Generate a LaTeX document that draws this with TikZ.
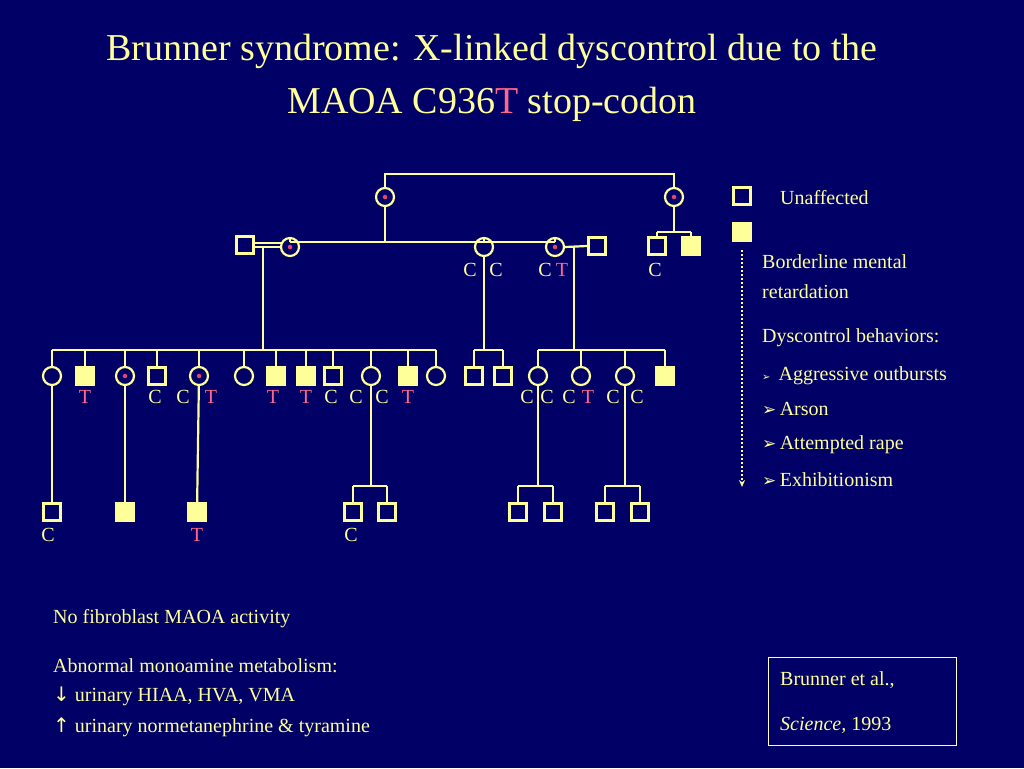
\documentclass[tikz,border=0pt]{standalone}
\usepackage{fontspec}
\setmainfont{Liberation Serif}
\newfontfamily\dv{DejaVu Sans}
\usetikzlibrary{arrows.meta}
\begin{document}
\begin{tikzpicture}[x=1pt,y=-1pt,
  yel/.style={draw=ylw,line width=2.2pt},
  osq/.style={yel,rectangle,minimum size=17pt,inner sep=0pt},
  fsq/.style={osq,fill=ylw},
  circ/.style={yel,circle,minimum size=18pt,inner sep=0pt},
  dcirc/.style={circ,label={[fill=dotc,circle,inner sep=1.6pt]center:}},
  lab/.style={text=ylw,font=\fontsize{20}{22}\selectfont,inner sep=0pt},
  red/.style={lab,text=redt},
  txt/.style={text=ylw,font=\fontsize{20}{22}\selectfont,anchor=west,inner sep=0pt},
  ln/.style={draw=ylw,line width=2.2pt}]
\definecolor{ylw}{RGB}{255,255,153}
\definecolor{bg}{RGB}{0,0,102}
\definecolor{redt}{RGB}{255,102,140}
\definecolor{dotc}{RGB}{230,70,110}
\fill[bg] (0,0) rectangle (1024,768);
\useasboundingbox (0,0) rectangle (1024,768);
% title
\node[text=ylw,font=\fontsize{38}{53}\selectfont,align=center] (title) at (492,78)
 {Brunner syndrome: X-linked dyscontrol due to the\\MAOA C936{\color{redt}T} stop-codon};
% Gen I
\node[dcirc] (g1a) at (385,197) {};
\node[dcirc] (g1b) at (674,197) {};
\coordinate (t1) at (385,174); \coordinate (t2) at (674,174);
\draw[ln] (g1a) -- (t1) -- (t2) -- (g1b);
% Gen II
\node[osq] (s1) at (245,245) {};
\node[dcirc] (c1) at (290,247) {};
\node[circ] (c2) at (484,247) {};
\node[dcirc] (c3) at (555,247) {};
\node[osq] (s2) at (597,246) {};
\node[osq] (r1) at (657,246) {};
\node[fsq] (r2) at (691,246) {};
\coordinate (sb1) at (385,242);
\draw[ln] (g1a) -- (sb1);
\draw[ln] (290,242) -- (555,242);
\draw[ln] (c1.north) -- (290,242) (c2.north) -- (484,242) (c3.north) -- (555,242);
\draw[ln] (g1b) -- (674,232);
\draw[ln] (657,232) -- (691,232) (r1.north) -- (657,232) (r2.north) -- (691,232);
\draw[draw=ylw,line width=1.5pt] (s1.east) ++(0,-2) -- ++(27.5,0) (s1.east) ++(0,2) -- ++(27.5,0);
\draw[ln] (c3.east) -- (s2.west);
\node[lab] at (470,270) {C}; \node[lab] at (496,270) {C};
\node[lab] at (545,270) {C}; \node[red] at (562,270) {T};
\node[lab] at (655,270) {C};
% Gen III left sibship
\draw[ln] (263,246) -- (263,350);
\draw[ln] (52,350) -- (436,350);
\foreach \n/\x/\s in {a/52/circ,b/85/fsq,c/125/dcirc,d/157/osq,e/199/dcirc,f/244/circ,g/276/fsq,h/306/fsq,i/333/osq,j/371/circ,k/408/fsq,l/436/circ}{
  \node[\s] (p\n) at (\x,376) {};
  \draw[ln] (p\n.north) -- (\x,350);
}
\node[red] at (85,397) {T};
\node[lab] at (155,397) {C}; \node[lab] at (183,397) {C}; \node[red] at (211,397) {T};
\node[red] at (273,397) {T}; \node[red] at (306,397) {T};
\node[lab] at (331,397) {C}; \node[lab] at (356,397) {C}; \node[lab] at (382,397) {C};
\node[red] at (408,397) {T};
% middle
\draw[ln] (c2) -- (484,350);
\draw[ln] (474,350) -- (503,350);
\node[osq] (m1) at (474,376) {}; \node[osq] (m2) at (503,376) {};
\draw[ln] (m1.north) -- (474,350) (m2.north) -- (503,350);
% right sibship
\draw[ln] (574,246) -- (574,350);
\draw[ln] (538,350) -- (665,350);
\node[circ] (q1) at (538,376) {}; \node[circ] (q2) at (581,376) {};
\node[circ] (q3) at (625,376) {}; \node[fsq] (q4) at (665,376) {};
\draw[ln] (q1.north) -- (538,350) (q2.north) -- (581,350) (q3.north) -- (625,350) (q4.north) -- (665,350);
\node[lab] at (527,397) {C}; \node[lab] at (547,397) {C}; \node[lab] at (569,397) {C};
\node[red] at (588,397) {T}; \node[lab] at (613,397) {C}; \node[lab] at (637,397) {C};
% Gen IV
\node[osq] (v1) at (52,512) {}; \draw[ln] (pa) -- (v1);
\node[fsq] (v2) at (125,512) {}; \draw[ln] (pc) -- (v2);
\node[fsq] (v3) at (197,512) {}; \draw[ln] (pe) -- (v3);
\node[lab] at (48,535) {C}; \node[red] at (197,535) {T};
\draw[ln] (pj) -- (371,486); \draw[ln] (353,486) -- (387,486);
\node[osq] (v4) at (353,512) {}; \node[osq] (v5) at (387,512) {};
\draw[ln] (v4.north) -- (353,486) (v5.north) -- (387,486);
\node[lab] at (351,535) {C};
\draw[ln] (q1) -- (538,486); \draw[ln] (518,486) -- (553,486);
\node[osq] (v6) at (518,512) {}; \node[osq] (v7) at (553,512) {};
\draw[ln] (v6.north) -- (518,486) (v7.north) -- (553,486);
\draw[ln] (q3) -- (625,486); \draw[ln] (605,486) -- (640,486);
\node[osq] (v8) at (605,512) {}; \node[osq] (v9) at (640,512) {};
\draw[ln] (v8.north) -- (605,486) (v9.north) -- (640,486);
% legend
\node[osq] (lg1) at (742,196) {};
\node[fsq] (lg2) at (742,232) {};
\coordinate (ae) at (742,487);
\draw[draw=ylw,line width=2pt,dotted,-{Stealth[length=7pt,width=6pt]}] (742,250) -- (ae);
\node[txt] at (780,198) {Unaffected};
\node[txt] at (762,262) {Borderline mental};
\node[txt] at (762,292) {retardation};
\node[txt] at (762,338) {Dyscontrol behaviors:};
\node[txt] at (762,376) {{\dv\fontsize{10}{10}\selectfont ➢}\hspace{8pt}Aggressive outbursts};
\node[txt] at (762,409) {{\dv\fontsize{17}{17}\selectfont ➢}\,Arson};
\node[txt] at (762,445) {{\dv\fontsize{17}{17}\selectfont ➢}\,Attempted rape};
\node[txt] at (762,480) {{\dv\fontsize{17}{17}\selectfont ➢}\,Exhibitionism};
% bottom
\node[txt] at (53,619) {No fibroblast MAOA activity};
\node[txt] at (53,666) {Abnormal monoamine metabolism:};
\node[txt] at (53,696) {{\dv ↓} urinary HIAA, HVA, VMA};
\node[txt] at (53,727) {{\dv ↑} urinary normetanephrine \& tyramine};
\draw[draw=ylw!50!white,line width=1pt] (768,657) rectangle (956,745);
\node[txt] at (780,680) {Brunner et al.,};
\node[txt] at (780,725) {\textit{Science,} 1993};
\end{tikzpicture}
\end{document}
